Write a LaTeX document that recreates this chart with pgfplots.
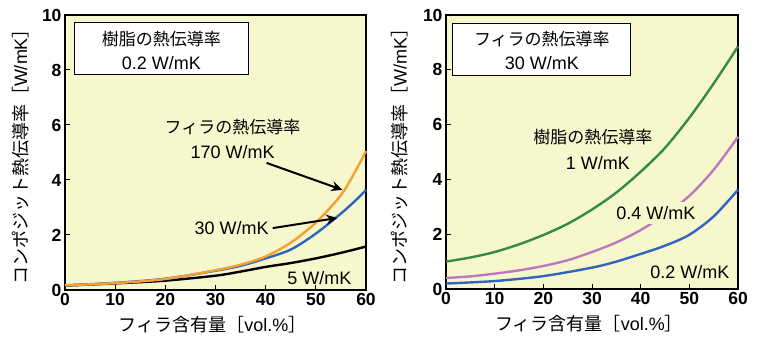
\documentclass[border=0pt]{standalone}
\usepackage{fontspec}
\setmainfont{Liberation Sans}
\newfontfamily\jp{Noto Sans CJK JP}
\usepackage{pgfplots}
\pgfplotsset{compat=1.18}
\usetikzlibrary{arrows.meta}
\definecolor{bg}{RGB}{247,247,205}
\definecolor{corange}{RGB}{245,160,50}
\definecolor{cblue}{RGB}{50,100,190}
\definecolor{cgreen}{RGB}{50,140,65}
\definecolor{cpurple}{RGB}{190,120,190}
\tikzset{lab/.style={font=\fontsize{18}{20}\selectfont, anchor=center, inner sep=1pt},
         jlab/.style={font=\fontsize{17}{20}\selectfont\jp, anchor=center, inner sep=1pt}}
\pgfplotsset{
  myax/.style={
    scale only axis,
    anchor=south west,
    xmin=0, xmax=60, ymin=0, ymax=10,
    xtick={0,10,...,60}, ytick={0,2,...,10},
    xtick pos=bottom, ytick pos=left,
    tick align=inside,
    major tick length=5pt,
    axis line style={line width=1.4pt},
    every tick/.style={line width=1pt, black},
    axis background/.style={fill=bg},
    /pgf/number format/assume math mode=true,
    tick label style={font=\fontsize{17.5}{19}\selectfont\bfseries},
    xlabel={\fontsize{18}{20}\selectfont{\jp フィラ含有量［}vol.\%{\jp ］}},
    ylabel={\fontsize{18}{20}\selectfont{\jp コンポジット熱伝導率［}W/mK{\jp ］}},
    xlabel style={at={(axis description cs:0.49,-0.125)}, anchor=center},
    ylabel style={anchor=center},
    clip=false,
  },
}
\begin{document}
\begin{tikzpicture}
\path[use as bounding box] (0pt,0pt) rectangle (765pt,340pt);
% ---------- left panel ----------
\begin{axis}[myax, at={(65pt,50pt)}, width=301pt, height=275pt,
  ylabel style={at={(axis description cs:-0.149,0.5)}}]
\addplot[black, line width=2.4pt, smooth] coordinates {
 (0,0.16) (10,0.24) (20,0.34) (30,0.52) (35,0.67) (40,0.84) (45,0.98) (50,1.15) (55,1.35) (60,1.58)};
\addplot[cblue, line width=2.4pt, smooth] coordinates {
 (0,0.17) (10,0.26) (20,0.41) (30,0.70) (35,0.88) (40,1.15) (45,1.47) (50,2.05) (55,2.78) (58,3.27) (60,3.64)};
\addplot[corange, line width=2.4pt, smooth] coordinates {
 (0,0.17) (10,0.25) (20,0.40) (30,0.72) (35,0.92) (40,1.22) (45,1.72) (50,2.45) (55,3.45) (58,4.36) (60,5.05)};
\draw[fill=white, line width=1pt] (axis cs:1.8,9.71) rectangle (axis cs:36.6,7.82);
\node[jlab] at (axis cs:19.2,9.12) {樹脂の熱伝導率};
\node[lab] at (axis cs:19.2,8.25) {0.2 W/mK};
\node[jlab] at (axis cs:33.4,5.93) {フィラの熱伝導率};
\node[lab] at (axis cs:33.4,5.0) {170 W/mK};
\node[lab] at (axis cs:33.2,2.25) {30 W/mK};
\node[lab] at (axis cs:50.7,0.44) {5 W/mK};
\draw[line width=2pt, -{Stealth[length=11pt,width=10pt]}] (axis cs:40.2,4.62) -- (axis cs:55.3,3.64);
\draw[line width=2pt, -{Stealth[length=11pt,width=10pt]}] (axis cs:41.4,2.25) -- (axis cs:54.3,2.62);
\end{axis}
% ---------- right panel ----------
\begin{axis}[myax, at={(446pt,51pt)}, width=292pt, height=274pt,
  ylabel style={at={(axis description cs:-0.158,0.5)}}]
\addplot[cgreen, line width=2.4pt, smooth] coordinates {
 (0,1.0) (5,1.15) (10,1.35) (15,1.63) (20,1.97) (25,2.38) (30,2.90) (35,3.52) (40,4.28) (45,5.15) (50,6.25) (55,7.50) (60,8.85)};
\addplot[cpurple, line width=2.4pt, smooth] coordinates {
 (0,0.40) (5,0.46) (10,0.56) (15,0.68) (20,0.84) (25,1.05) (30,1.35) (35,1.70) (40,2.15) (45,2.72) (50,3.40) (55,4.35) (60,5.55)};
\addplot[cblue, line width=2.4pt, smooth] coordinates {
 (0,0.20) (10,0.29) (20,0.47) (30,0.78) (35,1.00) (40,1.28) (45,1.58) (50,1.98) (55,2.65) (60,3.62)};
\draw[fill=white, line width=1pt] (axis cs:1.4,9.7) rectangle (axis cs:38.0,7.8);
\node[jlab] at (axis cs:19.7,9.12) {フィラの熱伝導率};
\node[lab] at (axis cs:19.7,8.25) {30 W/mK};
\node[jlab] at (axis cs:30.2,5.55) {樹脂の熱伝導率};
\node[lab] at (axis cs:31.2,4.6) {1 W/mK};
\node[lab, fill=bg, inner sep=4pt] at (axis cs:43.1,2.77) {0.4 W/mK};
\node[lab] at (axis cs:50.1,0.62) {0.2 W/mK};
\end{axis}
\end{tikzpicture}
\end{document}
